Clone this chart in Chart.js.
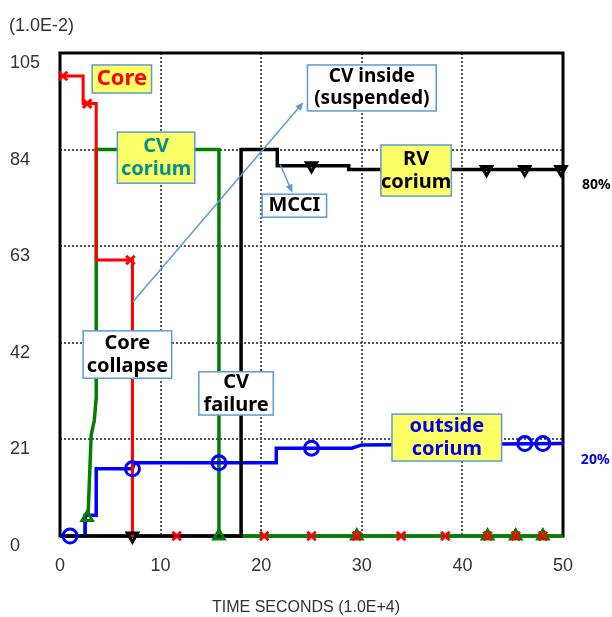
<!DOCTYPE html>
<html>
<head>
<meta charset="utf-8">
<script src="https://cdn.jsdelivr.net/npm/chart.js@4"></script>
<style>
  html, body { margin: 0; padding: 0; background: #fff; }
  #wrap { width: 612px; height: 617px; }
</style>
</head>
<body>
<div id="wrap"><canvas id="chart" width="612" height="617"></canvas></div>
<script>
// series lines (time in 1.0E+4 s, fraction in 1.0E-2)
const coreX = [0, 2.3, 2.3, 3.6, 3.6, 7.2, 7.2, 7.6];
const coreY = [100, 100, 94, 94, 60, 60, 0, 0];
const cvX = [2.5, 2.5, 2.8, 3.1, 3.4, 3.6, 3.6, 15.8, 15.8, 50];
const cvY = [0, 4, 5, 22, 25, 30, 84, 84, 0, 0];
const rvX = [0, 18, 18, 21.6, 21.6, 28.7, 28.7, 50];
const rvY = [0, 0, 84, 84, 80.5, 80.5, 79.7, 79.7];
const outX = [0, 2.5, 2.5, 3.6, 3.6, 7.2, 7.4, 21.5, 21.5, 29, 30, 50];
const outY = [0, 0, 4.5, 4.5, 14.6, 14.6, 15.9, 15.9, 19.1, 19.1, 19.8, 20.1];

// markers
const coreMkX = [0.3, 2.7, 7.0, 11.6, 20.3, 25, 29.5, 33.9, 38.3, 42.5, 45.3, 48];
const coreMkY = [100, 94, 60, 0, 0, 0, 0, 0, 0, 0, 0, 0];
const cvMkX = [2.7, 15.8, 29.5, 42.5, 45.3, 48];
const cvMkY = [4, 0, 0, 0, 0, 0];
const rvMkX = [7.2, 25, 42.4, 46.2, 49.8];
const rvMkY = [0, 80.5, 79.7, 79.7, 79.7];
const outMkX = [1.0, 7.2, 15.8, 25, 46.2, 48];
const outMkY = [0, 14.6, 15.9, 19.1, 20.1, 20.1];

const xTicks = [0, 10, 20, 30, 40, 50];
const yTicks = [0, 21, 42, 63, 84, 105];

const pts = (xs, ys) => xs.map((x, i) => ({ x: x, y: ys[i] }));

// callout boxes: [x1, x2, y1, y2] in data units
const callouts = [
    { box: [3.2, 9.1, 102.4, 96.3], lines: ['Core'], fill: '#FFFF66', color: '#FF0000', size: 22 },
    { box: [5.7, 13.4, 87.8, 76.7], lines: ['CV', 'corium'], fill: '#FFFF66', color: '#00918F', size: 20 },
    { box: [24.6, 37.4, 102.4, 92.4], lines: ['CV inside', '(suspended)'], fill: '#FFFFFF', color: '#000000', size: 19 },
    { box: [31.9, 38.9, 85.0, 73.9], lines: ['RV', 'corium'], fill: '#FFFF66', color: '#000000', size: 20 },
    { box: [20.1, 26.5, 74.3, 69.3], lines: ['MCCI'], fill: '#FFFFFF', color: '#000000', size: 20 },
    { box: [2.3, 11.1, 44.6, 34.3], lines: ['Core', 'collapse'], fill: '#FFFFFF', color: '#000000', size: 20 },
    { box: [13.8, 21.2, 35.7, 26.3], lines: ['CV', 'failure'], fill: '#FFFFFF', color: '#000000', size: 20 },
    { box: [33.0, 43.9, 26.5, 16.3], lines: ['outside', 'corium'], fill: '#FFFF66', color: '#0000E6', size: 20 }
];
const arrows = [
    { from: [7.26, 50.9], to: [24.2, 94.3] },
    { from: [21.9, 80.7], to: [23.1, 74.6] }
];
const sideLabels = [
    { x: 53.3, y: 76.3, text: '80%', color: '#000000' },
    { x: 53.2, y: 16.5, text: '20%', color: '#0000E6' }
];

const frame = {
    id: 'frame',
    beforeDatasetsDraw(chart) {
        const { ctx, chartArea: a } = chart;
        ctx.save();
        ctx.strokeStyle = '#000';
        ctx.lineWidth = 3;
        ctx.strokeRect(a.left, a.top, a.right - a.left, a.bottom - a.top);
        ctx.restore();
    }
};

const notes = {
    id: 'notes',
    afterDatasetsDraw(chart) {
        const { ctx, scales: { x, y } } = chart;
        ctx.save();
        // arrows
        ctx.strokeStyle = '#5B9BD5';
        ctx.fillStyle = '#5B9BD5';
        ctx.lineWidth = 1.5;
        arrows.forEach(a => {
            const x1 = x.getPixelForValue(a.from[0]), y1 = y.getPixelForValue(a.from[1]);
            const x2 = x.getPixelForValue(a.to[0]), y2 = y.getPixelForValue(a.to[1]);
            const ang = Math.atan2(y2 - y1, x2 - x1);
            ctx.beginPath();
            ctx.moveTo(x1, y1);
            ctx.lineTo(x2 - 6 * Math.cos(ang), y2 - 6 * Math.sin(ang));
            ctx.stroke();
            ctx.beginPath();
            ctx.moveTo(x2, y2);
            ctx.lineTo(x2 - 9 * Math.cos(ang - 0.4), y2 - 9 * Math.sin(ang - 0.4));
            ctx.lineTo(x2 - 9 * Math.cos(ang + 0.4), y2 - 9 * Math.sin(ang + 0.4));
            ctx.closePath();
            ctx.fill();
        });
        // boxes
        callouts.forEach(c => {
            const l = x.getPixelForValue(c.box[0]), r = x.getPixelForValue(c.box[1]);
            const t = y.getPixelForValue(c.box[2]), b = y.getPixelForValue(c.box[3]);
            ctx.fillStyle = c.fill;
            ctx.fillRect(l, t, r - l, b - t);
            ctx.strokeStyle = '#5B9BD5';
            ctx.lineWidth = 1.5;
            ctx.strokeRect(l, t, r - l, b - t);
            ctx.fillStyle = c.color;
            ctx.font = 'bold ' + c.size + 'px "Noto Sans", sans-serif';
            ctx.textAlign = 'center';
            ctx.textBaseline = 'middle';
            const step = c.size * 1.15;
            const mid = (t + b) / 2;
            c.lines.forEach((txt, i) => {
                ctx.fillText(txt, (l + r) / 2, mid + (i - (c.lines.length - 1) / 2) * step);
            });
        });
        sideLabels.forEach(s => {
            ctx.fillStyle = s.color;
            ctx.font = 'bold 14px "Noto Sans", sans-serif';
            ctx.textAlign = 'center';
            ctx.textBaseline = 'middle';
            ctx.fillText(s.text, x.getPixelForValue(s.x), y.getPixelForValue(s.y));
        });
        // axis titles
        ctx.fillStyle = '#333';
        ctx.font = '18px "Liberation Sans", Arial, sans-serif';
        ctx.textAlign = 'left';
        ctx.fillText('(1.0E-2)', 9, 26);
        ctx.font = '16px "Liberation Sans", Arial, sans-serif';
        ctx.textAlign = 'center';
        ctx.fillText('TIME SECONDS (1.0E+4)', 306, 608);
        ctx.restore();
    }
};

const lineSet = (label, xs, ys, color, width) => ({
    label: label,
    data: pts(xs, ys),
    showLine: true,
    clip: 6,
    borderColor: color,
    borderWidth: width,
    pointRadius: 0,
    tension: 0
});
const markSet = (label, xs, ys, color, style, rot, radius) => ({
    label: label,
    data: pts(xs, ys),
    showLine: false,
    clip: 10,
    pointStyle: style,
    rotation: rot,
    pointRadius: radius,
    pointBorderColor: color,
    pointBackgroundColor: 'rgba(0,0,0,0)',
    pointBorderWidth: 3
});

const config = {
    type: 'scatter',
    data: {
        datasets: [
            markSet('Core marks', coreMkX, coreMkY, '#FF0000', 'crossRot', 0, 6),
            markSet('CV marks', cvMkX, cvMkY, '#008000', 'triangle', 0, 6),
            markSet('RV marks', rvMkX, rvMkY, '#000000', 'triangle', 180, 6),
            markSet('Outside marks', outMkX, outMkY, '#0000FF', 'circle', 0, 7),
            lineSet('Core', coreX, coreY, '#FF0000', 3),
            lineSet('RV corium', rvX, rvY, '#000000', 3.5),
            lineSet('Outside corium', outX, outY, '#0000FF', 3.5),
            lineSet('CV corium', cvX, cvY, '#008000', 3.5)
        ]
    },
    options: {
        responsive: false,
        animation: false,
        layout: { padding: { left: 10, right: 49, top: 53, bottom: 0 } },
        plugins: {
            legend: { display: false },
            tooltip: { enabled: false }
        },
        scales: {
            x: {
                type: 'linear',
                min: 0,
                max: 50,
                afterFit: s => { s.height = 81; },
                afterBuildTicks: s => { s.ticks = xTicks.map(v => ({ value: v })); },
                grid: { color: '#555', lineWidth: 2, drawTicks: false },
                border: { display: false, dash: [2, 2] },
                ticks: {
                    padding: 19,
                    color: '#333',
                    font: { family: '"Liberation Sans", Arial, sans-serif', size: 18 }
                }
            },
            y: {
                type: 'linear',
                min: 0,
                max: 105,
                afterFit: s => { s.width = 50; },
                afterBuildTicks: s => { s.ticks = yTicks.map(v => ({ value: v })); },
                grid: { color: '#555', lineWidth: 2, drawTicks: false },
                border: { display: false, dash: [2, 2] },
                ticks: {
                    crossAlign: 'far',
                    labelOffset: 10,
                    color: '#333',
                    font: { family: '"Liberation Sans", Arial, sans-serif', size: 18 }
                }
            }
        }
    },
    plugins: [frame, notes]
};

new Chart(document.getElementById('chart').getContext('2d'), config);
</script>
</body>
</html>
